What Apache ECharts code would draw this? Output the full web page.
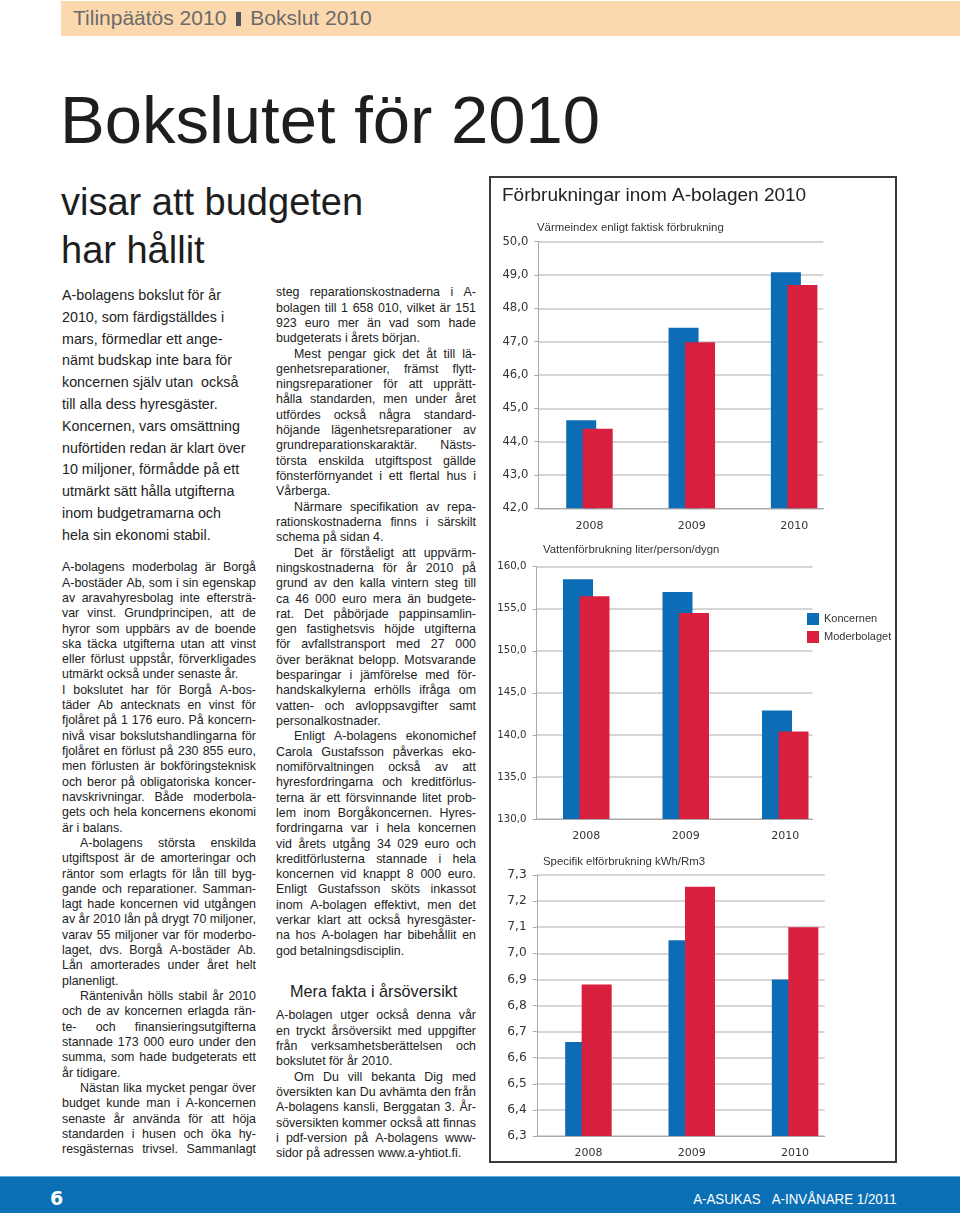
<!DOCTYPE html>
<html>
<head>
<meta charset="utf-8">
<script src="https://cdn.jsdelivr.net/npm/echarts@6/dist/echarts.min.js"></script>
<style>
  html,body{margin:0;padding:0;background:#fff;}
  body{width:960px;height:1213px;position:relative;overflow:hidden;font-family:"Liberation Sans",Arial,sans-serif;color:#222;}
  .abs{position:absolute;}
  #band{left:61px;top:1px;width:899px;height:35px;background:#fbd8ad;}
  #bandtxt{left:73px;top:5px;font-size:21px;line-height:26px;color:#6a6a6a;white-space:nowrap;}
  #bandtxt .sep{display:inline-block;width:5px;height:14px;background:#555;margin:0 9px 0 10px;vertical-align:-1px;}
  #h1{left:60px;top:86px;font-size:67px;line-height:67px;color:#1e1e1e;white-space:nowrap;}
  #h2{left:61px;top:178px;font-size:38px;line-height:48px;color:#1e1e1e;white-space:nowrap;}
  #intro{left:62px;top:285px;font-size:14.3px;line-height:21.8px;color:#222;white-space:nowrap;}
  .col{font-size:12.4px;color:#222;}
  .ln{height:15.32px;line-height:15.32px;white-space:nowrap;}
  .ln.j{display:flex;justify-content:space-between;}
  .ln.ind{padding-left:18px;}
  #mera{left:290px;top:980px;font-size:16.2px;line-height:22px;color:#222;white-space:nowrap;}
  #box{left:489px;top:176px;width:408px;height:987px;border:2px solid #3a3a3a;box-sizing:border-box;}
  #chart{left:491px;top:178px;width:406px;height:985px;}
  #foot{left:0;top:1176px;width:960px;height:37px;background:#0b6fb6;border-top:1px solid #6aaede;box-sizing:border-box;}
  #pg{left:50px;top:1187px;font-size:19px;line-height:22px;font-weight:bold;color:#fff;font-family:"DejaVu Sans",sans-serif;}
  #mag{right:63px;top:1189px;font-size:15.5px;line-height:20px;color:#fff;white-space:nowrap;transform:scaleX(0.86);transform-origin:right center;}
</style>
</head>
<body>
<div id="band" class="abs"></div>
<div id="bandtxt" class="abs">Tilinpäätös 2010<span class="sep"></span>Bokslut 2010</div>
<div id="h1" class="abs">Bokslutet för 2010</div>
<div id="h2" class="abs">visar att budgeten<br>har hållit</div>
<div id="intro" class="abs"></div>
<div id="col1" class="abs col" style="left:62px;top:560.3px;width:194px;"></div>
<div id="col2" class="abs col" style="left:276px;top:285.3px;width:200px;"></div>
<div id="mera" class="abs">Mera fakta i årsöversikt</div>
<div id="col3" class="abs col" style="left:276px;top:1008.4px;width:200px;"></div>
<div id="box" class="abs"></div>
<div id="chart" class="abs"></div>
<div id="foot" class="abs"></div>
<div id="pg" class="abs">6</div>
<div id="mag" class="abs">A-ASUKAS&nbsp;&nbsp;&nbsp;A-INVÅNARE 1/2011</div>
<script>
// ---------- chart data ----------
const categories = ['2008', '2009', '2010'];
const seriesNames = ['Koncernen', 'Moderbolaget'];
const heatKoncernen = [44.64, 47.42, 49.08];
const heatModerbolaget = [44.39, 46.98, 48.70];
const waterKoncernen = [158.5, 157.0, 142.9];
const waterModerbolaget = [156.5, 154.5, 140.4];
const elKoncernen = [6.66, 7.05, 6.90];
const elModerbolaget = [6.88, 7.255, 7.10];
const heatAxis = [42, 50, 1];
const waterAxis = [130, 160, 5];
const elAxis = [6.3, 7.3, 0.1];
const chartTitle = 'Förbrukningar inom A-bolagen 2010';
const subTitles = ['Värmeindex enligt faktisk förbrukning', 'Vattenförbrukning liter/person/dygn', 'Specifik elförbrukning kWh/Rm3'];

// ---------- page text ----------
const introLines = ['A-bolagens bokslut för år','2010, som färdigställdes i','mars, förmedlar ett ange-','nämt budskap inte bara för','koncernen själv utan  också','till alla dess hyresgäster.','Koncernen, vars omsättning','nuförtiden redan är klart över','10 miljoner, förmådde på ett','utmärkt sätt hålla utgifterna','inom budgetramarna och','hela sin ekonomi stabil.'];
const col1Paras = [
 {ind:false, end:true, lines:['A-bolagens moderbolag är Borgå','A-bostäder Ab, som i sin egenskap','av aravahyresbolag inte eftersträ-','var vinst. Grundprincipen, att de','hyror som uppbärs av de boende','ska täcka utgifterna utan att vinst','eller förlust uppstår, förverkligades','utmärkt också under senaste år.']},
 {ind:false, end:true, lines:['I bokslutet har för Borgå A-bos-','täder Ab antecknats en vinst för','fjolåret på 1 176 euro. På koncern-','nivå visar bokslutshandlingarna för','fjolåret en förlust på 230 855 euro,','men förlusten är bokföringsteknisk','och beror på obligatoriska koncer-','navskrivningar. Både moderbola-','gets och hela koncernens ekonomi','är i balans.']},
 {ind:true, end:true, lines:['A-bolagens största enskilda','utgiftspost är de amorteringar och','räntor som erlagts för lån till byg-','gande och reparationer. Samman-','lagt hade koncernen vid utgången','av år 2010 lån på drygt 70 miljoner,','varav 55 miljoner var för moderbo-','laget, dvs. Borgå A-bostäder Ab.','Lån amorterades under året helt','planenligt.']},
 {ind:true, end:true, lines:['Räntenivån hölls stabil år 2010','och de av koncernen erlagda rän-','te- och finansieringsutgifterna','stannade 173 000 euro under den','summa, som hade budgeterats ett','år tidigare.']},
 {ind:true, end:false, lines:['Nästan lika mycket pengar över','budget kunde man i A-koncernen','senaste år använda för att höja','standarden i husen och öka hy-','resgästernas trivsel. Sammanlagt']}
];
const col2Paras = [
 {ind:false, end:true, lines:['steg reparationskostnaderna i A-','bolagen till 1 658 010, vilket är 151','923 euro mer än vad som hade','budgeterats i årets början.']},
 {ind:true, end:true, lines:['Mest pengar gick det åt till lä-','genhetsreparationer, främst flytt-','ningsreparationer för att upprätt-','hålla standarden, men under året','utfördes också några standard-','höjande lägenhetsreparationer av','grundreparationskaraktär. Nästs-','törsta enskilda utgiftspost gällde','fönsterförnyandet i ett flertal hus i','Vårberga.']},
 {ind:true, end:true, lines:['Närmare specifikation av repa-','rationskostnaderna finns i särskilt','schema på sidan 4.']},
 {ind:true, end:true, lines:['Det är förståeligt att uppvärm-','ningskostnaderna för år 2010 på','grund av den kalla vintern steg till','ca 46 000 euro mera än budgete-','rat. Det påbörjade pappinsamlin-','gen fastighetsvis höjde utgifterna','för avfallstransport med 27 000','över beräknat belopp. Motsvarande','besparingar i jämförelse med för-','handskalkylerna erhölls ifråga om','vatten- och avloppsavgifter samt','personalkostnader.']},
 {ind:true, end:true, lines:['Enligt A-bolagens ekonomichef','Carola Gustafsson påverkas eko-','nomiförvaltningen också av att','hyresfordringarna och kreditförlus-','terna är ett försvinnande litet prob-','lem inom Borgåkoncernen. Hyres-','fordringarna var i hela koncernen','vid årets utgång 34 029 euro och','kreditförlusterna stannade i hela','koncernen vid knappt 8 000 euro.','Enligt Gustafsson sköts inkassot','inom A-bolagen effektivt, men det','verkar klart att också hyresgäster-','na hos A-bolagen har bibehållit en','god betalningsdisciplin.']}
];
const col3Paras = [
 {ind:false, end:true, lines:['A-bolagen utger också denna vår','en tryckt årsöversikt med uppgifter','från verksamhetsberättelsen och','bokslutet för år 2010.']},
 {ind:true, end:true, lines:['Om Du vill bekanta Dig med','översikten kan Du avhämta den från','A-bolagens kansli, Berggatan 3. År-','söversikten kommer också att finnas','i pdf-version på A-bolagens www-','sidor på adressen www.a-yhtiot.fi.']}
];

document.getElementById('intro').innerHTML = introLines.map(s => s.replace(/ /g,'&nbsp;')).join('<br>');
function fillCol(id, paras) {
  const el = document.getElementById(id);
  paras.forEach(p => {
    p.lines.forEach((t, i) => {
      const d = document.createElement('div');
      d.className = 'ln';
      if (p.ind && i === 0) d.classList.add('ind');
      const isLast = p.end && i === p.lines.length - 1;
      if (isLast) {
        d.textContent = t;
      } else {
        d.classList.add('j');
        t.split(/\s+/).forEach(w => { const s = document.createElement('span'); s.textContent = w; d.appendChild(s); });
      }
      el.appendChild(d);
    });
  });
}
fillCol('col1', col1Paras);
fillCol('col2', col2Paras);
fillCol('col3', col3Paras);

// ---------- chart ----------
const BLUE = '#0c6db6', RED = '#d81f3e';
const fmt = v => Number(v).toFixed(1).replace('.', ',');
// [top, height, barLeft, barWidth, lineWidth, yLabelSize]
const layout = [
  [63.7, 266.6, 47.3, 307, 285, 11.6],
  [388.7, 252.3, 45.5, 298.5, 276, 10.2],
  [697, 261, 45.75, 310, 288, 12.2]
];
const axes = [heatAxis, waterAxis, elAxis];
const dataSets = [[heatKoncernen, heatModerbolaget],[waterKoncernen, waterModerbolaget],[elKoncernen, elModerbolaget]];
const grid = [], xAxis = [], yAxis = [], series = [];
layout.forEach((L, k) => {
  const [top, h, left, bw, lw, ls] = L;
  const [mn, mx, iv] = axes[k];
  grid.push({left: left, top: top, width: bw, height: h});
  grid.push({left: left, top: top, width: lw, height: h});
  const gb = 2*k, gl = 2*k + 1;
  xAxis.push({gridIndex: gb, type: 'category', data: categories,
    axisLine: {show: false}, axisTick: {show: false},
    axisLabel: {fontFamily: 'DejaVu Sans', fontSize: 11, color: '#333', margin: 12}});
  xAxis.push({gridIndex: gl, type: 'category', data: categories,
    axisLine: {show: true, lineStyle: {color: '#a9a9a9', width: 1}}, axisTick: {show: false}, axisLabel: {show: false}});
  yAxis.push({gridIndex: gb, type: 'value', min: mn, max: mx, interval: iv,
    axisLine: {show: true, lineStyle: {color: '#a9a9a9', width: 1}},
    axisTick: {show: true, length: 4, lineStyle: {color: '#a9a9a9'}},
    axisLabel: {fontFamily: 'DejaVu Sans', fontSize: ls, color: '#333', margin: 10, formatter: fmt},
    splitLine: {show: false}});
  yAxis.push({gridIndex: gl, type: 'value', min: mn, max: mx, interval: iv,
    axisLine: {show: false}, axisTick: {show: false}, axisLabel: {show: false},
    splitLine: {show: true, lineStyle: {color: '#c8c8c8', width: 1.5}}});
  dataSets[k].forEach((d, s) => {
    series.push({type: 'bar', name: seriesNames[s], xAxisIndex: 2*k, yAxisIndex: 2*k,
      data: d, barWidth: 30, barGap: '-45%', z: 3,
      itemStyle: {color: s === 0 ? BLUE : RED}});
  });
});

const chart = echarts.init(document.getElementById('chart'), null, {renderer: 'canvas'});
chart.setOption({
  animation: false,
  textStyle: {fontFamily: 'Liberation Sans'},
  title: [
    {text: chartTitle, left: 11, top: 8.5, padding: 0, textStyle: {fontSize: 19, fontWeight: 'normal', color: '#222', fontFamily: 'Liberation Sans'}},
    {text: subTitles[0], left: 46, top: 44, padding: 0, textStyle: {fontSize: 11.4, fontWeight: 'normal', color: '#333'}},
    {text: subTitles[1], left: 52, top: 366, padding: 0, textStyle: {fontSize: 11.4, fontWeight: 'normal', color: '#333'}},
    {text: subTitles[2], left: 52, top: 678, padding: 0, textStyle: {fontSize: 11.4, fontWeight: 'normal', color: '#333'}}
  ],
  legend: {data: seriesNames, orient: 'vertical', left: 316, top: 435, padding: 0,
    itemWidth: 12, itemHeight: 12, itemGap: 6, icon: 'rect',
    textStyle: {fontSize: 11, color: '#333', fontFamily: 'Liberation Sans'}},
  grid: grid, xAxis: xAxis, yAxis: yAxis, series: series
});
</script>
</body>
</html>
